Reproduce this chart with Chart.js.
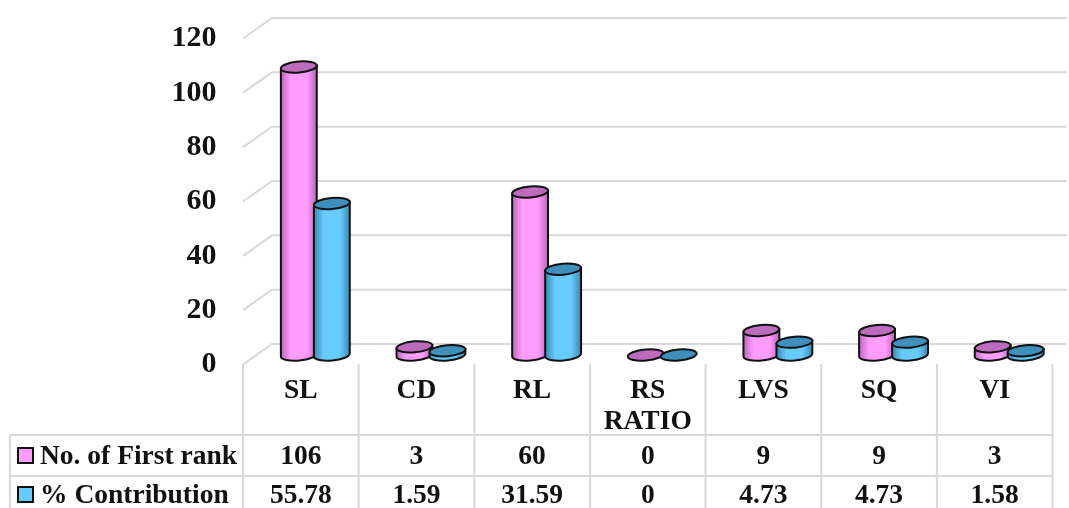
<!DOCTYPE html>
<html>
<head>
<meta charset="utf-8">
<title>First rank chart</title>
<script src="https://cdn.jsdelivr.net/npm/chart.js@4"></script>
<style>
    body { margin: 0; background: #fff; }
    canvas { display: block; }
</style>
</head>
<body>
<canvas id="rankChart" width="1069" height="508"></canvas>
<script>
const categories = [["SL"], ["CD"], ["RL"], ["RS", "RATIO"], ["LVS"], ["SQ"], ["VI"]];
const firstRank = [106, 3, 60, 0, 9, 9, 3];
const contribution = [55.78, 1.59, 31.59, 0, 4.73, 4.73, 1.58];
const seriesNames = ["No. of First rank", "% Contribution"];
const yTicks = [0, 20, 40, 60, 80, 100, 120];

const serif = '"Liberation Serif", "Times New Roman", serif';
const gridColor = "#d9d9d9";
const pink = { light: "#ff9cff", dark: "#b868b8", top: "#bd6cbd" };
const blue = { light: "#66ccff", dark: "#3a88b0", top: "#3f8fbc" };
const colors = [pink, blue];

const depthX = 14.5;
const depthBack = 11;
const depthFront = 9.5;
const tilt = -5 * Math.PI / 180;

// back wall, side wall and floor
const wallPlugin = {
    id: "walls",
    beforeDatasetsDraw(chart) {
        const { ctx, chartArea, scales } = chart;
        ctx.save();
        ctx.strokeStyle = gridColor;
        ctx.lineWidth = 2;
        yTicks.forEach((v) => {
            const y = scales.y.getPixelForValue(v);
            ctx.beginPath();
            ctx.moveTo(chartArea.left - depthX, y + depthFront);
            ctx.lineTo(chartArea.left + depthX, y - depthBack);
            ctx.lineTo(chartArea.right, y - depthBack);
            ctx.stroke();
        });
        ctx.restore();
    },
};

function drawCylinder(ctx, x, top, base, halfW, color) {
    const ry = 5.5;
    const dx = halfW * Math.cos(tilt);
    const dy = halfW * Math.sin(tilt);

    const grad = ctx.createLinearGradient(x - halfW, 0, x + halfW, 0);
    grad.addColorStop(0, color.dark);
    grad.addColorStop(0.28, color.light);
    grad.addColorStop(0.72, color.light);
    grad.addColorStop(1, color.dark);

    ctx.strokeStyle = "#111";
    ctx.lineWidth = 2;
    if (base - top > 0.5) {
        ctx.beginPath();
        ctx.moveTo(x - dx, top - dy);
        ctx.lineTo(x - dx, base - dy);
        ctx.ellipse(x, base, halfW, ry, tilt, Math.PI, 0, true);
        ctx.lineTo(x + dx, top + dy);
        ctx.closePath();
        ctx.fillStyle = grad;
        ctx.fill();
        ctx.stroke();
    }
    ctx.beginPath();
    ctx.ellipse(x, top, halfW, ry, tilt, 0, Math.PI * 2);
    ctx.fillStyle = color.top;
    ctx.fill();
    ctx.stroke();
}

// pink first, then blue over it
const cylinderPlugin = {
    id: "cylinders",
    afterDatasetsDraw(chart) {
        const ctx = chart.ctx;
        ctx.save();
        chart.data.datasets.forEach((ds, i) => {
            chart.getDatasetMeta(i).data.forEach((bar) => {
                drawCylinder(ctx, bar.x, bar.y, bar.base, 18, colors[i]);
            });
        });
        ctx.restore();
    },
};

// data table under the plot, columns follow the x scale
const tablePlugin = {
    id: "dataTable",
    afterDraw(chart) {
        const { ctx, scales } = chart;
        const colW = scales.x.getPixelForValue(1) - scales.x.getPixelForValue(0);
        const left = scales.x.getPixelForValue(0) - colW / 2 - depthX;
        const rows = [435, 476];
        const textY = [457, 496];
        const bottom = 508;

        ctx.save();
        ctx.strokeStyle = gridColor;
        ctx.lineWidth = 2;
        for (let i = 0; i <= categories.length; i++) {
            const x = left + i * colW;
            ctx.beginPath();
            ctx.moveTo(x, 364);
            ctx.lineTo(x, bottom);
            ctx.stroke();
        }
        ctx.beginPath();
        ctx.moveTo(10, rows[0]);
        ctx.lineTo(10, bottom);
        rows.forEach((y) => {
            ctx.moveTo(10, y);
            ctx.lineTo(left + categories.length * colW, y);
        });
        ctx.stroke();

        ctx.font = "bold 27.5px " + serif;
        ctx.textBaseline = "middle";
        chart.data.datasets.forEach((ds, i) => {
            ctx.fillStyle = ds.backgroundColor;
            ctx.strokeStyle = "#111";
            ctx.lineWidth = 2;
            ctx.fillRect(18, textY[i] - 9, 15, 15);
            ctx.strokeRect(18, textY[i] - 9, 15, 15);

            ctx.fillStyle = "#111";
            ctx.textAlign = "left";
            ctx.fillText(seriesNames[i], 40, textY[i]);
            ctx.textAlign = "center";
            ds.data.forEach((v, c) => {
                ctx.fillText(String(v), left + (c + 0.5) * colW, textY[i]);
            });
        });
        ctx.restore();
    },
};

new Chart(document.getElementById("rankChart"), {
    type: "bar",
    data: {
        labels: categories,
        datasets: [
            { label: seriesNames[0], data: firstRank, backgroundColor: pink.light, borderWidth: 0 },
            { label: seriesNames[1], data: contribution, backgroundColor: blue.light, borderWidth: 0 },
        ],
    },
    options: {
        responsive: false,
        animation: false,
        layout: { padding: { top: 29, right: 2, left: 0, bottom: 0 } },
        categoryPercentage: 0.571,
        barPercentage: 1,
        plugins: { legend: { display: false }, tooltip: { enabled: false } },
        scales: {
            x: {
                grid: { display: false },
                border: { display: false },
                afterFit(scale) { scale.height = 153; },
                ticks: {
                    color: "#111",
                    font: { family: serif, size: 27.5, weight: "bold", lineHeight: 1.13 },
                    padding: 12,
                    labelOffset: -14.5,
                    maxRotation: 0,
                    autoSkip: false,
                },
            },
            y: {
                min: 0,
                max: 120,
                grid: { display: false },
                border: { display: false },
                afterFit(scale) {
                    scale.width = 257.5;
                    scale.paddingTop = 0;
                    scale.paddingBottom = 0;
                },
                ticks: {
                    stepSize: 20,
                    color: "#111",
                    font: { family: serif, size: 30, weight: "bold" },
                    padding: 33,
                    labelOffset: 9.5,
                },
            },
        },
    },
    plugins: [wallPlugin, cylinderPlugin, tablePlugin],
});
</script>
</body>
</html>
